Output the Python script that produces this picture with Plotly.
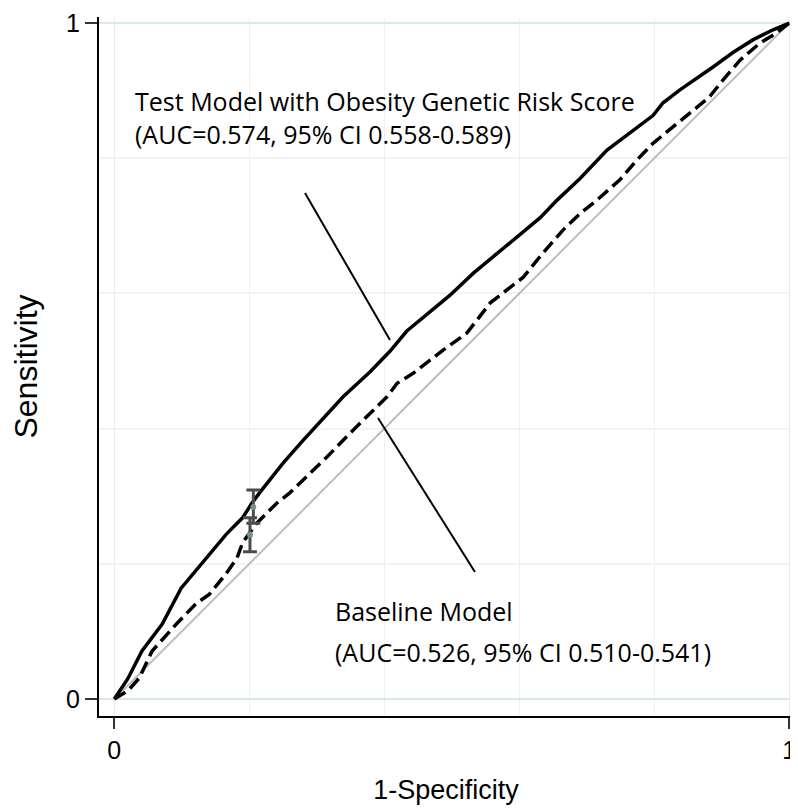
import plotly.graph_objects as go

# Test model (with obesity genetic risk score) ROC curve
test_fpr = [0, 0.02, 0.041, 0.071, 0.099, 0.141, 0.166, 0.190, 0.204, 0.216, 0.25, 0.28, 0.305,
            0.339, 0.379, 0.408, 0.433, 0.468, 0.497, 0.532, 0.567, 0.596, 0.631, 0.656, 0.690,
            0.730, 0.764, 0.798, 0.813, 0.838, 0.887, 0.916, 0.946, 0.976, 1.0]
test_tpr = [0, 0.03, 0.071, 0.111, 0.164, 0.214, 0.244, 0.268, 0.290, 0.306, 0.349, 0.383, 0.410,
            0.447, 0.484, 0.514, 0.544, 0.573, 0.597, 0.630, 0.659, 0.684, 0.712, 0.738, 0.770,
            0.812, 0.837, 0.863, 0.882, 0.901, 0.935, 0.956, 0.975, 0.990, 1.0]

# Baseline model ROC curve
base_fpr = [0, 0.02, 0.037, 0.056, 0.092, 0.121, 0.141, 0.166, 0.182, 0.19, 0.21, 0.241, 0.26,
            0.29, 0.315, 0.349, 0.374, 0.389, 0.404, 0.419, 0.443, 0.487, 0.522, 0.557, 0.582,
            0.606, 0.631, 0.665, 0.690, 0.715, 0.749, 0.774, 0.798, 0.828, 0.858, 0.882, 0.902,
            0.927, 0.956, 0.981, 1.0]
base_tpr = [0, 0.012, 0.031, 0.071, 0.111, 0.141, 0.155, 0.186, 0.209, 0.231, 0.259, 0.290, 0.305,
            0.334, 0.358, 0.393, 0.417, 0.432, 0.447, 0.467, 0.482, 0.516, 0.541, 0.586, 0.605,
            0.624, 0.655, 0.694, 0.718, 0.738, 0.768, 0.797, 0.822, 0.846, 0.871, 0.891, 0.916,
            0.945, 0.970, 0.985, 1.0]

# Reference diagonal
diag = [0, 1]

# Confidence intervals at 1-specificity ~0.2
ci_x = [0.206, 0.201]
ci_y = [0.284, 0.243]
ci_hi = [0.309, 0.268]
ci_lo = [0.260, 0.218]

test_label = ["Test Model with Obesity Genetic Risk Score", "(AUC=0.574, 95% CI 0.558-0.589)"]
base_label = ["Baseline Model", "(AUC=0.526, 95% CI 0.510-0.541)"]

fig = go.Figure()
fig.add_trace(go.Scatter(x=diag, y=diag, mode="lines",
                         line=dict(color="#bdbdbd", width=2), showlegend=False))
fig.add_trace(go.Scatter(x=base_fpr, y=base_tpr, mode="lines",
                         line=dict(color="black", width=3.5, dash="13px,6px"), showlegend=False))
fig.add_trace(go.Scatter(x=test_fpr, y=test_tpr, mode="lines",
                         line=dict(color="black", width=3.5), showlegend=False))
fig.add_trace(go.Scatter(
    x=ci_x, y=ci_y, mode="markers",
    marker=dict(color="#6f948f", size=6),
    error_y=dict(type="data", symmetric=False,
                 array=[h - c for h, c in zip(ci_hi, ci_y)],
                 arrayminus=[c - l for l, c in zip(ci_lo, ci_y)],
                 color="#4d4d4d", thickness=3, width=7),
    showlegend=False))

# pointer lines
fig.add_shape(type="line", x0=0.2825, y0=0.7485, x1=0.4084, y1=0.531,
              line=dict(color="black", width=2))
fig.add_shape(type="line", x0=0.3907, y0=0.4157, x1=0.5343, y1=0.1879,
              line=dict(color="black", width=2))

tfont = dict(family="Open Sans, sans-serif", size=25, color="black")
fig.add_annotation(x=0.0277, y=(699 - 117) / 676, text="<br>".join(test_label), showarrow=False,
                   xanchor="left", yanchor="middle", align="left", font=tfont)
fig.add_annotation(x=0.324, y=(699 - 611) / 676, text=base_label[0], showarrow=False,
                   xanchor="left", yanchor="middle", font=tfont)
fig.add_annotation(x=0.324, y=(699 - 652) / 676, text=base_label[1], showarrow=False,
                   xanchor="left", yanchor="middle", font=tfont)

axfont = dict(family="Liberation Sans, Arial, sans-serif", color="black")
# page body has an 8px margin, so the figure is 8px smaller each way
fig.update_layout(
    width=790, height=801,
    margin=dict(l=91, r=5, t=9, b=93),
    plot_bgcolor="white", paper_bgcolor="white",
    showlegend=False,
)
fig.update_xaxes(
    automargin=False,
    range=[-0.02267, 1.00548], tickmode="array", tickvals=[0, 1], ticktext=["0", "1"],
    ticks="outside", ticklen=11, tickwidth=2, tickcolor="#333333",
    tickfont=dict(size=25, **axfont),
    showline=True, linecolor="black", linewidth=2, mirror=False,
    showgrid=True, gridcolor="#ececec", gridwidth=1, zeroline=False,
    minor=dict(tickmode="linear", tick0=0, dtick=0.2, showgrid=True, gridcolor="#f0f0f0", ticks=""),
    title=dict(text="1-Specificity", font=dict(size=27, **axfont), standoff=17),
)
fig.update_yaxes(
    automargin=False,
    range=[-0.02515, 1.00888], tickmode="array", tickvals=[0, 1], ticktext=["0", "1"],
    ticks="outside", ticklen=12, tickwidth=2, tickcolor="#333333",
    tickfont=dict(size=25, **axfont),
    showline=True, linecolor="black", linewidth=2, mirror=False,
    showgrid=True, gridcolor="#d9e8e8", gridwidth=2, zeroline=False,
    minor=dict(tickmode="linear", tick0=0, dtick=0.2, showgrid=True, gridcolor="#f3f3f3", ticks=""),
    title=dict(text="Sensitivity", font=dict(size=32, **axfont), standoff=19),
)

fig.write_html("out.html")
